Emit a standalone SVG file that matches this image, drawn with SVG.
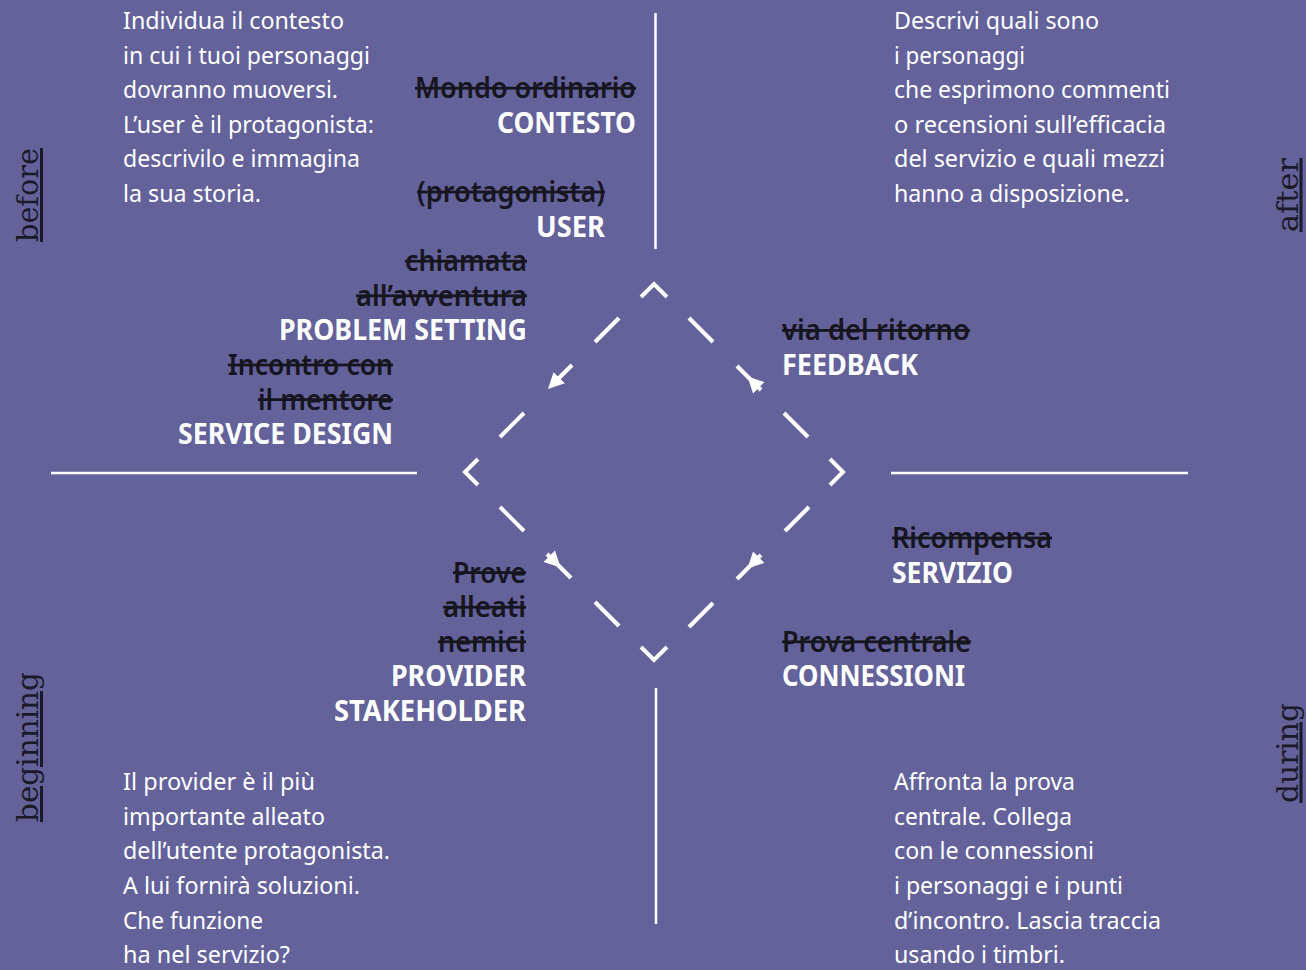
<svg xmlns="http://www.w3.org/2000/svg" width="1306" height="970" viewBox="0 0 1306 970">
<defs>
<style>
.body{font-family:"Noto Sans","Open Sans",sans-serif;font-size:23.5px;fill:#ffffff;}
.lab{font-family:"Noto Sans","Open Sans",sans-serif;font-size:28px;font-weight:700;fill:#ffffff;}
.old{font-family:"Noto Sans","Open Sans",sans-serif;font-size:28px;font-weight:600;fill:#17161f;text-decoration:line-through;}
.side{font-family:"DejaVu Serif","Liberation Serif",serif;font-size:30px;fill:#1b1a26;text-decoration:underline;}
.end{text-anchor:end;}
.axis{stroke:#ffffff;stroke-width:2.5;fill:none;}
.dash{stroke:#ffffff;stroke-width:4;fill:none;stroke-linecap:butt;stroke-linejoin:miter;}
</style>
<marker id="ah" viewBox="0 0 10 10" refX="6" refY="5" markerWidth="16" markerHeight="16" markerUnits="userSpaceOnUse" orient="auto">
<path d="M0,0 L10,5 L0,10 z" fill="#ffffff"/>
</marker>
<marker id="ahr" viewBox="0 0 14 10" refX="12" refY="5" markerWidth="22.4" markerHeight="16" markerUnits="userSpaceOnUse" orient="auto">
<path d="M10,0 L0,5 L10,10 z" fill="#ffffff"/>
</marker>
</defs>
<rect x="0" y="0" width="1306" height="970" fill="#63629b"/>

<g id="side-labels">
<text class="side" transform="translate(38,242) rotate(-90)" textLength="94" lengthAdjust="spacingAndGlyphs">before</text>
<text class="side" transform="translate(38,822) rotate(-90)" textLength="150" lengthAdjust="spacingAndGlyphs">beginning</text>
<text class="side" transform="translate(1297.5,232) rotate(-90)" textLength="74" lengthAdjust="spacingAndGlyphs">after</text>
<text class="side" transform="translate(1297.5,803) rotate(-90)" textLength="100" lengthAdjust="spacingAndGlyphs">during</text>
</g>

<g id="desc-before">
<text class="body" x="123" y="29" textLength="221" lengthAdjust="spacingAndGlyphs">Individua il contesto</text>
<text class="body" x="123" y="63.6" textLength="247" lengthAdjust="spacingAndGlyphs">in cui i tuoi personaggi</text>
<text class="body" x="123" y="98.2" textLength="215" lengthAdjust="spacingAndGlyphs">dovranno muoversi.</text>
<text class="body" x="123" y="132.8" textLength="251" lengthAdjust="spacingAndGlyphs">L’user è il protagonista:</text>
<text class="body" x="123" y="167.4" textLength="237" lengthAdjust="spacingAndGlyphs">descrivilo e immagina</text>
<text class="body" x="123" y="202" textLength="138" lengthAdjust="spacingAndGlyphs">la sua storia.</text>
</g>

<g id="desc-after">
<text class="body" x="894" y="29" textLength="205" lengthAdjust="spacingAndGlyphs">Descrivi quali sono</text>
<text class="body" x="894" y="63.6" textLength="131" lengthAdjust="spacingAndGlyphs">i personaggi</text>
<text class="body" x="894" y="98.2" textLength="276" lengthAdjust="spacingAndGlyphs">che esprimono commenti</text>
<text class="body" x="894" y="132.8" textLength="272" lengthAdjust="spacingAndGlyphs">o recensioni sull’efficacia</text>
<text class="body" x="894" y="167.4" textLength="271" lengthAdjust="spacingAndGlyphs">del servizio e quali mezzi</text>
<text class="body" x="894" y="202" textLength="236" lengthAdjust="spacingAndGlyphs">hanno a disposizione.</text>
</g>

<g id="desc-beginning">
<text class="body" x="123" y="790.2" textLength="192" lengthAdjust="spacingAndGlyphs">Il provider è il più</text>
<text class="body" x="123" y="824.8" textLength="202" lengthAdjust="spacingAndGlyphs">importante alleato</text>
<text class="body" x="123" y="859.4" textLength="267" lengthAdjust="spacingAndGlyphs">dell’utente protagonista.</text>
<text class="body" x="123" y="894" textLength="237" lengthAdjust="spacingAndGlyphs">A lui fornirà soluzioni.</text>
<text class="body" x="123" y="928.6" textLength="140" lengthAdjust="spacingAndGlyphs">Che funzione</text>
<text class="body" x="123" y="963.2" textLength="167" lengthAdjust="spacingAndGlyphs">ha nel servizio?</text>
</g>

<g id="desc-during">
<text class="body" x="894" y="790.2" textLength="181" lengthAdjust="spacingAndGlyphs">Affronta la prova</text>
<text class="body" x="894" y="824.8" textLength="178" lengthAdjust="spacingAndGlyphs">centrale. Collega</text>
<text class="body" x="894" y="859.4" textLength="200" lengthAdjust="spacingAndGlyphs">con le connessioni</text>
<text class="body" x="894" y="894" textLength="229" lengthAdjust="spacingAndGlyphs">i personaggi e i punti</text>
<text class="body" x="894" y="928.6" textLength="267" lengthAdjust="spacingAndGlyphs">d’incontro. Lascia traccia</text>
<text class="body" x="894" y="963.2" textLength="171" lengthAdjust="spacingAndGlyphs">usando i timbri.</text>
</g>

<g id="node-contesto">
<text class="old end" x="636" y="98.2" textLength="221" lengthAdjust="spacingAndGlyphs">Mondo ordinario</text>
<text class="lab end" x="636" y="132.8" textLength="139" lengthAdjust="spacingAndGlyphs">CONTESTO</text>
</g>
<g id="node-user">
<text class="old end" x="605" y="202" textLength="188" lengthAdjust="spacingAndGlyphs">(protagonista)</text>
<text class="lab end" x="605" y="236.6" textLength="69" lengthAdjust="spacingAndGlyphs">USER</text>
</g>
<g id="node-problem-setting">
<text class="old end" x="527" y="271.2" textLength="122" lengthAdjust="spacingAndGlyphs">chiamata</text>
<text class="old end" x="527" y="305.8" textLength="171" lengthAdjust="spacingAndGlyphs">all’avventura</text>
<text class="lab end" x="527" y="340.4" textLength="248" lengthAdjust="spacingAndGlyphs">PROBLEM SETTING</text>
</g>
<g id="node-service-design">
<text class="old end" x="393" y="375" textLength="165" lengthAdjust="spacingAndGlyphs">Incontro con</text>
<text class="old end" x="393" y="409.6" textLength="135" lengthAdjust="spacingAndGlyphs">il mentore</text>
<text class="lab end" x="393" y="444.2" textLength="215" lengthAdjust="spacingAndGlyphs">SERVICE DESIGN</text>
</g>
<g id="node-feedback">
<text class="old" x="782" y="340.4" textLength="188" lengthAdjust="spacingAndGlyphs">via del ritorno</text>
<text class="lab" x="782" y="375" textLength="136" lengthAdjust="spacingAndGlyphs">FEEDBACK</text>
</g>
<g id="node-servizio">
<text class="old" x="892" y="548" textLength="160" lengthAdjust="spacingAndGlyphs">Ricompensa</text>
<text class="lab" x="892" y="582.6" textLength="121" lengthAdjust="spacingAndGlyphs">SERVIZIO</text>
</g>
<g id="node-connessioni">
<text class="old" x="782" y="651.8" textLength="189" lengthAdjust="spacingAndGlyphs">Prova centrale</text>
<text class="lab" x="782" y="686.4" textLength="183" lengthAdjust="spacingAndGlyphs">CONNESSIONI</text>
</g>
<g id="node-provider">
<text class="old end" x="526" y="582.6" textLength="73" lengthAdjust="spacingAndGlyphs">Prove</text>
<text class="old end" x="526" y="617.2" textLength="83" lengthAdjust="spacingAndGlyphs">alleati</text>
<text class="old end" x="526" y="651.8" textLength="88" lengthAdjust="spacingAndGlyphs">nemici</text>
<text class="lab end" x="526" y="686.4" textLength="135" lengthAdjust="spacingAndGlyphs">PROVIDER</text>
<text class="lab end" x="526" y="721" textLength="192" lengthAdjust="spacingAndGlyphs">STAKEHOLDER</text>
</g>

<g id="connectors">
<line class="axis" x1="655.5" y1="13" x2="655.5" y2="249"/>
<line class="axis" x1="656" y1="688" x2="656" y2="924"/>
<line class="axis" x1="51" y1="473" x2="417" y2="473"/>
<line class="axis" x1="891" y1="473" x2="1188" y2="473"/>

<polyline class="dash" points="641,297 654,284 667,297"/>
<polyline class="dash" points="641,647 654,660 667,647"/>
<polyline class="dash" points="478,459 465,472 478,485"/>
<polyline class="dash" points="830,459 843,472 830,485"/>

<line class="dash" x1="619" y1="318" x2="595" y2="342"/>
<line class="dash" x1="572" y1="365" x2="552.5" y2="384.5" marker-end="url(#ah)"/>
<line class="dash" x1="524" y1="413" x2="500" y2="437"/>

<line class="dash" x1="500" y1="507" x2="524" y2="531"/>
<line class="dash" x1="571" y1="578" x2="547" y2="554" marker-end="url(#ahr)"/>
<line class="dash" x1="595" y1="602" x2="619" y2="626"/>

<line class="dash" x1="689" y1="318" x2="713" y2="342"/>
<line class="dash" x1="737" y1="366" x2="761" y2="390" marker-end="url(#ahr)"/>
<line class="dash" x1="784" y1="413" x2="808" y2="437"/>

<line class="dash" x1="809" y1="507" x2="785" y2="531"/>
<line class="dash" x1="737" y1="579" x2="761" y2="555" marker-end="url(#ahr)"/>
<line class="dash" x1="713" y1="603" x2="689" y2="627"/>
</g>
</svg>
